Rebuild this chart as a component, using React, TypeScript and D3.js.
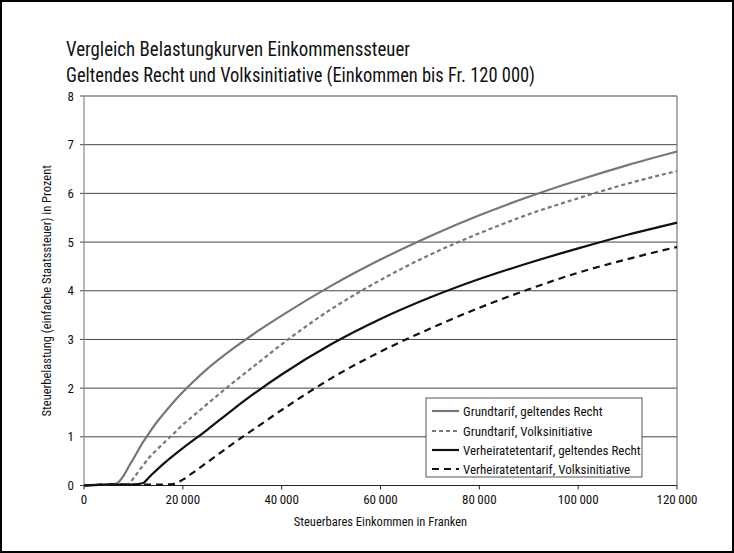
import React from "react";
import * as d3 from "d3";

const income = [0, 5000, 6500, 8000, 9000, 10000, 12000, 13000, 14000, 16000, 18000, 20000, 22000, 25000, 30000, 35000, 40000, 50000, 60000, 70000, 80000, 90000, 100000, 110000, 120000];
const grundGeltend = [0, 0.02, 0.04, 0.2, 0.38, 0.55, 0.9, 1.05, 1.2, 1.46, 1.7, 1.92, 2.12, 2.4, 2.8, 3.16, 3.49, 4.1, 4.64, 5.12, 5.55, 5.93, 6.27, 6.58, 6.86];
const grundVolk = [0, 0.02, 0.02, 0.02, 0.03, 0.15, 0.42, 0.55, 0.66, 0.86, 1.05, 1.25, 1.42, 1.68, 2.1, 2.5, 2.9, 3.62, 4.22, 4.74, 5.18, 5.57, 5.9, 6.2, 6.46];
const verhGeltend = [0, 0.02, 0.02, 0.02, 0.02, 0.02, 0.05, 0.15, 0.25, 0.44, 0.61, 0.77, 0.92, 1.15, 1.55, 1.93, 2.28, 2.9, 3.42, 3.86, 4.24, 4.57, 4.87, 5.15, 5.4];
const verhVolk = [0, 0.02, 0.02, 0.02, 0.02, 0.02, 0.02, 0.02, 0.02, 0.02, 0.03, 0.12, 0.26, 0.48, 0.85, 1.2, 1.55, 2.2, 2.75, 3.22, 3.65, 4.03, 4.37, 4.65, 4.9];

const seriesNames = [
  "Grundtarif, geltendes Recht",
  "Grundtarif, Volksinitiative",
  "Verheiratetentarif, geltendes Recht",
  "Verheiratetentarif, Volksinitiative",
];
const seriesValues = [grundGeltend, grundVolk, verhGeltend, verhVolk];
const seriesColors = ["#777777", "#777777", "#111111", "#111111"];
const seriesDash = [null, "4,3", null, "7,5"];

const xTicks = [0, 20000, 40000, 60000, 80000, 100000, 120000];
const yTicks = [0, 1, 2, 3, 4, 5, 6, 7, 8];

const titleLines = [
  "Vergleich Belastungkurven Einkommenssteuer",
  "Geltendes Recht und Volksinitiative (Einkommen bis Fr. 120 000)",
];
const xLabel = "Steuerbares Einkommen in Franken";
const yLabel = "Steuerbelastung (einfache Staatssteuer) in Prozent";

const W = 734;
const H = 553;
const FONT = "'Liberation Sans Narrow', 'Roboto Condensed', 'Arial Narrow', Roboto, sans-serif";

const fmt = (v: number) => {
  if (v === 0) return "0";
  const s = String(v);
  if (s.length > 3) return s.slice(0, s.length - 3) + "\u2009" + s.slice(-3);
  return s;
};

export default function App() {
  const left = 84, right = 677, top = 96, bottom = 485.5;
  const x = d3.scaleLinear().domain([0, 120000]).range([left, right]);
  const y = d3.scaleLinear().domain([0, 8]).range([bottom, top]);
  const line = d3
    .line<number>()
    .x((_, i) => x(income[i]))
    .y((d) => y(d))
    .curve(d3.curveMonotoneX);

  const lg = { x: 426, y: 398, w: 216, h: 79 };
  const rowY = [411, 431, 450, 469];
  const titleWidths = [344, 469];

  return (
    <svg width={W} height={H} style={{ position: "absolute", left: 0, top: 0, background: "#fff" }}>
      <rect x={1} y={1} width={W - 2} height={H - 2} fill="#fff" stroke="#000" strokeWidth={2} />
      {titleLines.map((t, i) => (
        <text
          key={i}
          x={66}
          y={56 + i * 26}
          fontFamily={FONT}
          fontSize={21}
          fill="#111"
          textLength={titleWidths[i]}
          lengthAdjust="spacingAndGlyphs"
        >
          {t}
        </text>
      ))}
      {yTicks.slice(1).map((t) => (
        <line key={t} x1={left - 4} x2={right} y1={y(t)} y2={y(t)} stroke="#444" strokeWidth={1} />
      ))}
      <line x1={left - 4} x2={left} y1={y(0)} y2={y(0)} stroke="#444" />
      <line x1={right} x2={right} y1={top} y2={bottom} stroke="#777" strokeWidth={1.2} />
      <line x1={left} x2={left} y1={top} y2={bottom} stroke="#888" strokeWidth={1.2} />
      {yTicks.map((t) => (
        <text key={t} x={left - 10} y={y(t) + 4.5} textAnchor="end" fontFamily={FONT} fontSize={13} fill="#111">
          {t}
        </text>
      ))}
      <line x1={left} x2={right} y1={bottom} y2={bottom} stroke="#222" strokeWidth={1.2} />
      {xTicks.map((t) => (
        <g key={t}>
          <line x1={x(t)} x2={x(t)} y1={bottom} y2={bottom + 4} stroke="#222" />
          <text x={x(t)} y={bottom + 18} textAnchor="middle" fontFamily={FONT} fontSize={13} fill="#111">
            {fmt(t)}
          </text>
        </g>
      ))}
      <text x={(left + right) / 2} y={526} textAnchor="middle" fontFamily={FONT} fontSize={12.5} fill="#111">
        {xLabel}
      </text>
      <text
        transform={`translate(51, ${(top + bottom) / 2}) rotate(-90)`}
        textAnchor="middle"
        fontFamily={FONT}
        fontSize={12.5}
        fill="#111"
      >
        {yLabel}
      </text>
      {seriesValues.map((vals, i) => (
        <path
          key={i}
          d={line(vals) || ""}
          fill="none"
          stroke={seriesColors[i]}
          strokeWidth={2.2}
          strokeDasharray={seriesDash[i] || undefined}
        />
      ))}
      <rect x={lg.x} y={lg.y} width={lg.w} height={lg.h} fill="#fff" stroke="#555" strokeWidth={1} />
      {seriesNames.map((n, i) => (
        <g key={n}>
          <line
            x1={lg.x + 6}
            x2={lg.x + 33}
            y1={rowY[i]}
            y2={rowY[i]}
            stroke={seriesColors[i]}
            strokeWidth={2.2}
            strokeDasharray={seriesDash[i] || undefined}
          />
          <text x={lg.x + 37} y={rowY[i] + 4.5} fontFamily={FONT} fontSize={13} fill="#111">
            {n}
          </text>
        </g>
      ))}
    </svg>
  );
}
